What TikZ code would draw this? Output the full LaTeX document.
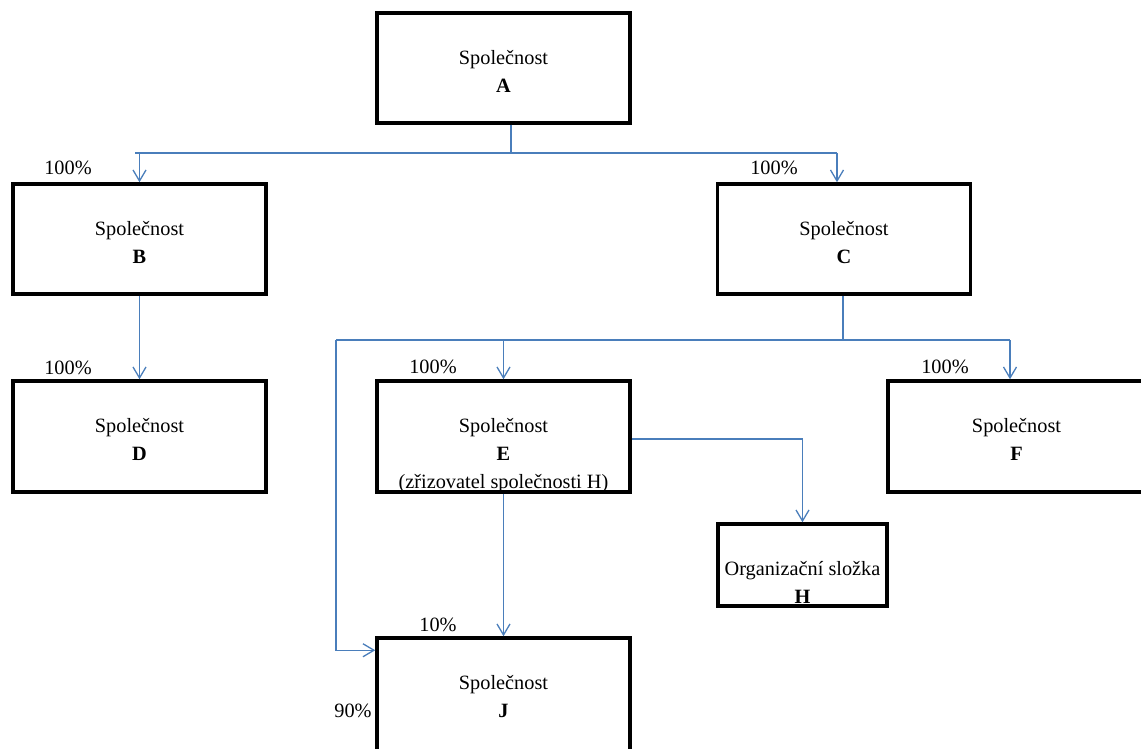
\documentclass[tikz,border=0pt]{standalone}
\usepackage{fontspec}
\setmainfont{Liberation Serif}
\usepackage{tikz}
\usetikzlibrary{arrows.meta,positioning}
\definecolor{linkblue}{RGB}{74,126,187}

\begin{document}
\begin{tikzpicture}
		[x=1pt,y=-1pt,line cap=butt,
		%Styles
		company/.style={draw,rectangle,line width=3.5pt,minimum width=253pt,minimum height=110pt,inner sep=0pt},
		company text/.style={align=center,inner sep=0pt,font=\fontsize{20.3}{28}\selectfont},
		share/.style={anchor=base,inner sep=0pt,font=\fontsize{20.3}{24}\selectfont},
		link/.style={draw=linkblue,line width=1.3pt},
		arrow/.style={link,-{Straight Barb[length=11pt,width=13pt]}}
		]
		
		\useasboundingbox (0,0) rectangle (1141,749);
		
		%The companies
		\node[company] (A) at (503.5,68) {};
		\node[company] (B) at (139.5,239) {};
		\node[company] (C) at (844,239) {};
		\node[company,minimum height=111pt] (D) at (139.5,436.5) {};
		\node[company,minimum height=111pt] (E) at (503.5,436.5) {};
		\node[company,minimum height=111pt,minimum width=257pt] (F) at (1016.5,436.5) {};
		\node[company,minimum width=169pt,minimum height=82pt] (H) at (802.5,565) {};
		\node[company,minimum height=116pt] (J) at (503.5,696) {};
		
		\node[company text,below=38.5pt of A.north] (A text) {Společnost\\\textbf{A}};
		\node[company text,below=38.5pt of B.north] (B text) {Společnost\\\textbf{B}};
		\node[company text,below=38.5pt of C.north] (C text) {Společnost\\\textbf{C}};
		\node[company text,below=38.5pt of D.north] (D text) {Společnost\\\textbf{D}};
		\node[company text,below=38.5pt of E.north] (E text) {Společnost\\\textbf{E}\\(zřizovatel společnosti H)};
		\node[company text,below=38.5pt of F.north] (F text) {Společnost\\\textbf{F}};
		\node[company text,below=38.5pt of H.north] (H text) {Organizační složka\\\textbf{H}};
		\node[company text,below=38.5pt of J.north] (J text) {Společnost\\\textbf{J}};
		
		%Bus lines
		\coordinate (busA) at (511,153);
		\coordinate (busA left) at (135,153);
		\coordinate (busA right) at (837,153);
		\coordinate (busC) at (843,340);
		\coordinate (busC left) at (336,340);
		\coordinate (busC right) at (1010,340);
		
		\draw[link] (A.south -| busA) -- (busA);
		\draw[link] (busA left) -- (busA right);
		\draw[arrow] (B.north |- busA) -- (B.north);
		\draw[arrow] (busA right) -- (busA right |- C.north);
		
		\draw[link] (C.south -| busC) -- (busC);
		\draw[link] (busC left) -- (busC right);
		\draw[arrow] (E.north |- busC) -- (E.north);
		\draw[arrow] (busC right) -- (busC right |- F.north);
		\draw[arrow] (busC left) |- ([yshift=-14pt]J.north west);
		
		\draw[arrow] (B.south) -- (D.north);
		\draw[arrow] ([yshift=-2.5pt]E.east) -| (H.north);
		\draw[arrow] (E.south) -- (J.north);
		
		%Shares
		\node[share] (share B) at (68,175) {100\%};
		\node[share] (share C) at (774,175) {100\%};
		\node[share] (share D) at (68,374) {100\%};
		\node[share] (share E) at (433,373) {100\%};
		\node[share] (share F) at (945,373) {100\%};
		\node[share] (share J1) at (438,631) {10\%};
		\node[share] (share J2) at (353,717) {90\%};
	\end{tikzpicture}
\end{document}
